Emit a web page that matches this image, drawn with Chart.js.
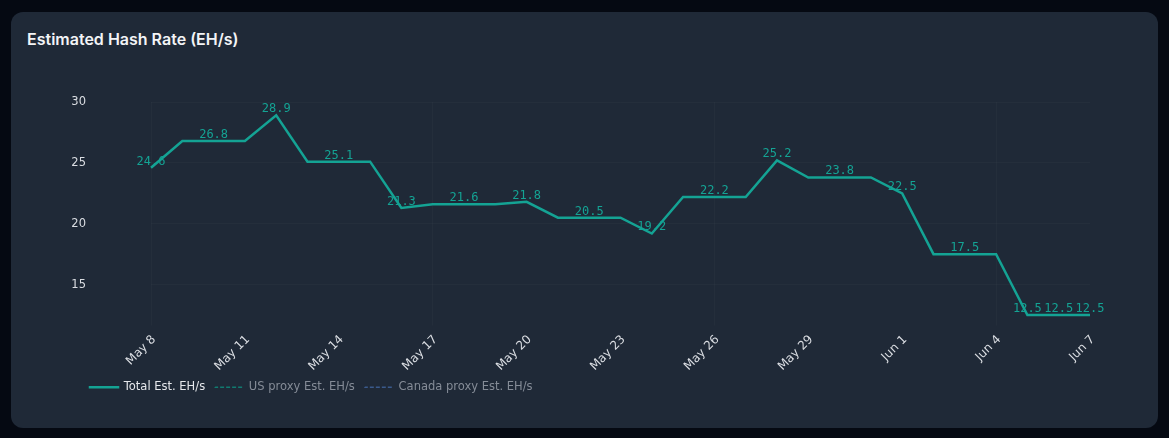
<!DOCTYPE html>
<html>
<head>
<meta charset="utf-8">
<title>Estimated Hash Rate</title>
<script src="https://cdn.jsdelivr.net/npm/chart.js@4.4.1/dist/chart.umd.min.js"></script>
<style>
    html, body { margin: 0; padding: 0; }
    body {
        width: 1169px;
        height: 438px;
        background: #050912;
        position: relative;
        overflow: hidden;
        font-family: Inter, "Open Sans", sans-serif;
    }
    .card {
        position: absolute;
        left: 11px;
        top: 12px;
        width: 1147px;
        height: 416px;
        background: #1f2937;
        border-radius: 12px;
    }
    .card h3 {
        position: absolute;
        left: 16px;
        top: 17px;
        margin: 0;
        font-size: 16px;
        line-height: 20px;
        font-weight: 600;
        color: #f3f4f6;
    }
    #hashChart {
        position: absolute;
        left: 0;
        top: 0;
    }
</style>
</head>
<body>
<div class="card">
    <h3>Estimated Hash Rate (EH/s)</h3>
</div>
<canvas id="hashChart" width="1169" height="438"></canvas>

<script>
// Daily categories
const dayLabels = [
    'May 8', 'May 9', 'May 10', 'May 11', 'May 12', 'May 13', 'May 14', 'May 15',
    'May 16', 'May 17', 'May 18', 'May 19', 'May 20', 'May 21', 'May 22', 'May 23',
    'May 24', 'May 25', 'May 26', 'May 27', 'May 28', 'May 29', 'May 30', 'May 31',
    'Jun 1', 'Jun 2', 'Jun 3', 'Jun 4', 'Jun 5', 'Jun 6', 'Jun 7'
];

// Total est. EH/s per day
const totalEh = [
    24.6, 26.8, 26.8, 26.8, 28.9, 25.1, 25.1, 25.1,
    21.3, 21.6, 21.6, 21.6, 21.8, 20.5, 20.5, 20.5,
    19.2, 22.2, 22.2, 22.2, 25.2, 23.8, 23.8, 23.8,
    22.5, 17.5, 17.5, 17.5, 12.5, 12.5, 12.5
];

// proxy series are toggled off in the picture
const usProxyEh = [];
const canadaProxyEh = [];

const yTicks = [15, 20, 25, 30];

const tealColor = '#14a394';
const usColor = '#117a70';
const canadaColor = '#3a5a8c';

// value labels above the line
const pointLabels = {
    id: 'pointLabels',
    afterDatasetsDraw(chart) {
        const meta = chart.getDatasetMeta(0);
        const ctx = chart.ctx;
        ctx.save();
        ctx.font = '12px "DejaVu Sans Mono", monospace';
        ctx.fillStyle = tealColor;
        ctx.textAlign = 'center';
        ctx.textBaseline = 'alphabetic';
        meta.data.forEach((pt, i) => {
            if (i % 2 !== 0 && i < totalEh.length - 2) return;
            ctx.fillText(totalEh[i].toFixed(1), pt.x, pt.y - 3);
        });
        ctx.restore();
    }
};

// legend sits a bit further right than the y axis box
const legendShift = {
    id: 'legendShift',
    afterLayout(chart) {
        chart.legend.left = 80;
    }
};

document.addEventListener('DOMContentLoaded', function () {
    const ctx = document.getElementById('hashChart').getContext('2d');

    new Chart(ctx, {
        type: 'line',
        data: {
            labels: dayLabels,
            datasets: [{
                label: 'Total Est. EH/s',
                data: totalEh,
                borderColor: tealColor,
                borderWidth: 2.5,
                pointRadius: 0,
                tension: 0,
                fill: false
            }, {
                label: 'US proxy Est. EH/s',
                data: usProxyEh,
                borderColor: usColor,
                borderWidth: 1.5,
                borderDash: [3, 3],
                pointRadius: 0,
                hidden: true
            }, {
                label: 'Canada proxy Est. EH/s',
                data: canadaProxyEh,
                borderColor: canadaColor,
                borderWidth: 1.5,
                borderDash: [3, 3],
                pointRadius: 0,
                hidden: true
            }]
        },
        options: {
            responsive: false,
            animation: false,
            devicePixelRatio: 1,
            layout: {
                padding: { left: 40, right: 79, top: 102, bottom: 35 }
            },
            scales: {
                x: {
                    border: { display: false },
                    grid: {
                        color: (c) => (c.index % 3 === 0 ? 'rgba(255,255,255,0.025)' : 'rgba(0,0,0,0)')
                    },
                    ticks: {
                        autoSkip: false,
                        maxRotation: 45,
                        minRotation: 45,
                        padding: 7,
                        labelOffset: 3,
                        color: '#dadde2',
                        font: { family: 'DejaVu Sans', size: 12 },
                        callback: function (val, index) {
                            return index % 3 === 0 ? dayLabels[index] : null;
                        }
                    },
                    afterFit: function (scale) {
                        scale.height = 54;
                    }
                },
                y: {
                    min: 12.3,
                    max: 30,
                    border: { display: false },
                    grid: {
                        color: 'rgba(255,255,255,0.025)',
                        drawTicks: false
                    },
                    ticks: {
                        padding: 65,
                        color: '#dadde2',
                        font: { family: 'DejaVu Sans', size: 11.5 }
                    },
                    afterBuildTicks: function (scale) {
                        scale.ticks = yTicks.map(v => ({ value: v }));
                    },
                    afterFit: function (scale) {
                        scale.width = 111;
                    }
                }
            },
            plugins: {
                legend: {
                    position: 'bottom',
                    align: 'start',
                    labels: {
                        boxWidth: 28,
                        boxHeight: 0.001,
                        padding: 10,
                        font: { family: 'DejaVu Sans', size: 11.5 },
                        generateLabels: function (chart) {
                            const items = Chart.defaults.plugins.legend.labels.generateLabels(chart);
                            items.forEach(item => {
                                const off = item.hidden;
                                item.fillStyle = 'rgba(0,0,0,0)';
                                item.lineWidth = off ? 1.5 : 2.5;
                                item.fontColor = off ? '#858c97' : '#e5e7eb';
                                item.hidden = false;
                            });
                            return items;
                        }
                    }
                },
                tooltip: { enabled: false }
            }
        },
        plugins: [pointLabels, legendShift]
    });
});
</script>
</body>
</html>
